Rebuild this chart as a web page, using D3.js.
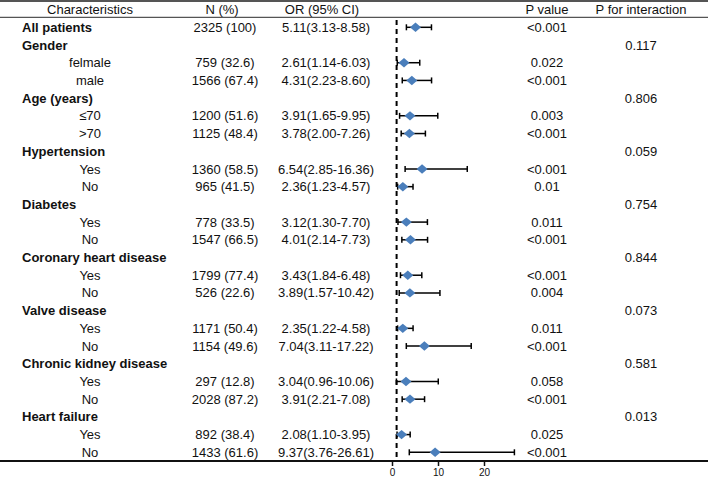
<!DOCTYPE html>
<html><head><meta charset="utf-8">
<script src="https://cdn.jsdelivr.net/npm/d3@7"></script>
<style>html,body{margin:0;padding:0;background:#fff;}svg{display:block;font-family:"Liberation Sans",Arial,sans-serif;}</style>
</head><body>
<script>
const labels = ["All patients","Gender","felmale","male","Age (years)","≤70",">70","Hypertension","Yes","No","Diabetes","Yes","No","Coronary heart disease","Yes","No","Valve disease","Yes","No","Chronic kidney disease","Yes","No","Heart failure","Yes","No"];
const isGroup = [1,1,0,0,1,0,0,1,0,0,1,0,0,1,0,0,1,0,0,1,0,0,1,0,0];
const nText = ["2325 (100)","","759 (32.6)","1566 (67.4)","","1200 (51.6)","1125 (48.4)","","1360 (58.5)","965 (41.5)","","778 (33.5)","1547 (66.5)","","1799 (77.4)","526 (22.6)","","1171 (50.4)","1154 (49.6)","","297 (12.8)","2028 (87.2)","","892 (38.4)","1433 (61.6)"];
const orVals = [5.11,null,2.61,4.31,null,3.91,3.78,null,6.54,2.36,null,3.12,4.01,null,3.43,3.89,null,2.35,7.04,null,3.04,3.91,null,2.08,9.37];
const lowVals = [3.13,null,1.14,2.23,null,1.65,2.00,null,2.85,1.23,null,1.30,2.14,null,1.84,1.57,null,1.22,3.11,null,0.96,2.21,null,1.10,3.76];
const highVals = [8.58,null,6.03,8.60,null,9.95,7.26,null,16.36,4.57,null,7.70,7.73,null,6.48,10.42,null,4.58,17.22,null,10.06,7.08,null,3.95,26.61];
const pValues = ["<0.001","","0.022","<0.001","","0.003","<0.001","","<0.001","0.01","","0.011","<0.001","","<0.001","0.004","","0.011","<0.001","","0.058","<0.001","","0.025","<0.001"];
const pInteraction = ["","0.117","","","0.806","","","0.059","","","0.754","","","0.844","","","0.073","","","0.581","","","0.013","",""];
const headers = ["Characteristics","N (%)","OR (95% CI)","P value","P for interaction"];
const xTicks = [0,10,20];

const W = 708, H = 478;
const svg = d3.select("body").append("svg").attr("width", W).attr("height", H);
const idx = d3.range(labels.length);
const y = d3.scaleLinear().domain([0, labels.length - 1]).range([27.3, 452.3]);
const x = d3.scaleLinear().domain([0, 30]).range([392, 530]);

const col = {label: 90, group: 22, n: 225, or: 326, p: 547, pint: 641};
const fs = 13;

// lines
svg.append("line").attr("x1",0).attr("x2",W).attr("y1",1).attr("y2",1).attr("stroke","#555").attr("stroke-width",2);
svg.append("line").attr("x1",0).attr("x2",W).attr("y1",17.3).attr("y2",17.3).attr("stroke","#555").attr("stroke-width",1.3);
svg.append("line").attr("x1",0).attr("x2",W).attr("y1",461).attr("y2",461).attr("stroke","#111").attr("stroke-width",2);

// headers
const hx = [col.label, 222, 322, col.p, col.pint];
svg.selectAll("text.h").data(headers).join("text").attr("class","h")
  .attr("x",(d,i)=>hx[i]).attr("y",9).attr("dy","0.35em").attr("text-anchor","middle")
  .attr("font-size",fs).attr("fill","#111").text(d=>d);

// labels
svg.selectAll("text.lab").data(idx).join("text").attr("class","lab")
  .attr("x",i=>isGroup[i]?col.group:col.label).attr("y",i=>y(i)).attr("dy","0.35em")
  .attr("text-anchor",i=>isGroup[i]?"start":"middle")
  .attr("font-weight",i=>isGroup[i]?"bold":"normal")
  .attr("font-size",fs).attr("fill","#111").text(i=>labels[i]);

svg.selectAll("text.n").data(idx.filter(i=>nText[i])).join("text").attr("class","n")
  .attr("x",col.n).attr("y",i=>y(i)).attr("dy","0.35em").attr("text-anchor","middle")
  .attr("font-size",fs).attr("fill","#111").text(i=>nText[i]);

const fmt = d3.format(".2f");
svg.selectAll("text.or").data(idx.filter(i=>orVals[i]!=null)).join("text").attr("class","or")
  .attr("x",col.or).attr("y",i=>y(i)).attr("dy","0.35em").attr("text-anchor","middle")
  .attr("font-size",fs).attr("fill","#111")
  .text(i=>`${fmt(orVals[i])}(${fmt(lowVals[i])}-${fmt(highVals[i])})`);

svg.selectAll("text.p").data(idx.filter(i=>pValues[i])).join("text").attr("class","p")
  .attr("x",col.p).attr("y",i=>y(i)).attr("dy","0.35em").attr("text-anchor","middle")
  .attr("font-size",fs).attr("fill","#111").text(i=>pValues[i]);

svg.selectAll("text.pi").data(idx.filter(i=>pInteraction[i])).join("text").attr("class","pi")
  .attr("x",col.pint).attr("y",i=>y(i)).attr("dy","0.35em").attr("text-anchor","middle")
  .attr("font-size",fs).attr("fill","#111").text(i=>pInteraction[i]);

// reference line at OR = 1
svg.append("line").attr("x1",x(1)).attr("x2",x(1)).attr("y1",20).attr("y2",460)
  .attr("stroke","#000").attr("stroke-width",2).attr("stroke-dasharray","5,4");

// error bars
const est = idx.filter(i=>orVals[i]!=null);
const g = svg.append("g");
g.selectAll("line.ci").data(est).join("line").attr("class","ci")
  .attr("x1",i=>x(lowVals[i])).attr("x2",i=>x(highVals[i])).attr("y1",i=>y(i)).attr("y2",i=>y(i))
  .attr("stroke","#000").attr("stroke-width",1.5);
g.selectAll("line.capl").data(est).join("line").attr("class","capl")
  .attr("x1",i=>x(lowVals[i])).attr("x2",i=>x(lowVals[i])).attr("y1",i=>y(i)-3).attr("y2",i=>y(i)+3)
  .attr("stroke","#000").attr("stroke-width",1.5);
g.selectAll("line.capr").data(est).join("line").attr("class","capr")
  .attr("x1",i=>x(highVals[i])).attr("x2",i=>x(highVals[i])).attr("y1",i=>y(i)-3).attr("y2",i=>y(i)+3)
  .attr("stroke","#000").attr("stroke-width",1.5);
g.selectAll("path.dia").data(est).join("path").attr("class","dia")
  .attr("transform",i=>`translate(${x(orVals[i])},${y(i)})`)
  .attr("d","M-5.5,0L0,-4.7L5.5,0L0,4.7Z").attr("fill","#4a7ebb");

// x axis
const axis = svg.append("g").attr("transform","translate(0,461)")
  .call(d3.axisBottom(x).tickValues(xTicks).tickFormat(d3.format("d")).tickSize(5).tickPadding(3));
axis.select(".domain").remove();
axis.selectAll(".tick line").attr("stroke","#111").attr("stroke-width",1.5);
axis.selectAll(".tick text").attr("font-size",10).attr("fill","#111").attr("font-family","Liberation Sans, Arial, sans-serif");
</script>
</body></html>
